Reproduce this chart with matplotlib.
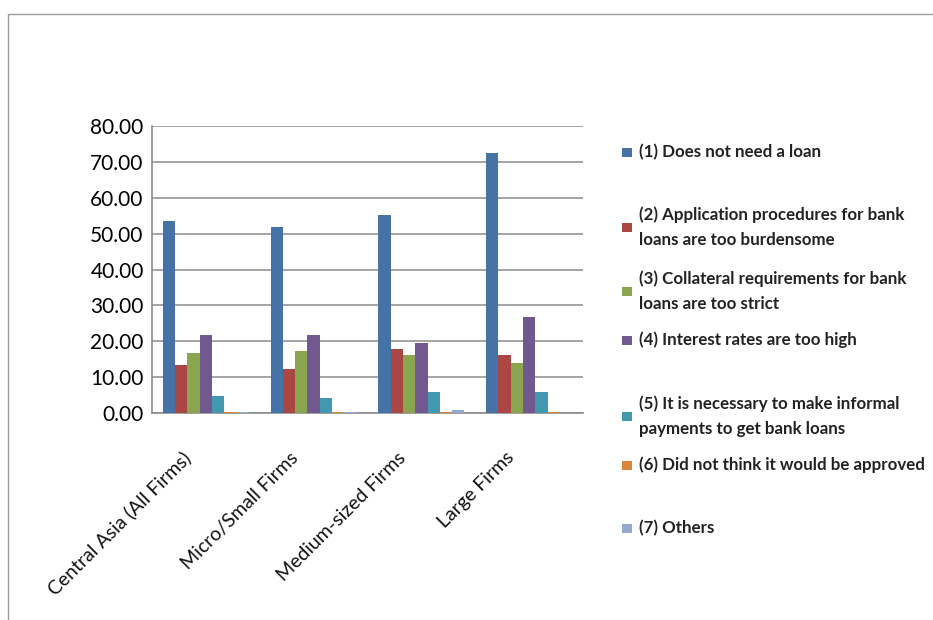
import matplotlib
matplotlib.use("Agg")
import matplotlib.pyplot as plt
import numpy as np
from matplotlib.patches import Rectangle

categories = ["Central Asia (All Firms)", "Micro/Small Firms", "Medium-sized Firms", "Large Firms"]
series_labels = [
    "(1) Does not need a loan",
    "(2) Application procedures for bank\nloans are too burdensome",
    "(3) Collateral requirements for bank\nloans are too strict",
    "(4) Interest rates are too high",
    "(5) It is necessary to make informal\npayments to get bank loans",
    "(6) Did not think it would be approved",
    "(7) Others",
]
s1 = [53.5, 51.8, 55.2, 72.5]
s2 = [13.4, 12.3, 17.9, 16.2]
s3 = [16.8, 17.3, 16.2, 14.0]
s4 = [21.8, 21.8, 19.6, 26.8]
s5 = [4.8, 4.3, 5.9, 5.9]
s6 = [0.3, 0.3, 0.3, 0.3]
s7 = [0.3, 0.3, 0.9, 0.0]
series = [s1, s2, s3, s4, s5, s6, s7]
colors = ["#4572A7", "#AA4643", "#89A54E", "#71588F", "#4198AF", "#DB843D", "#93A9CF"]
yticks = [0, 10, 20, 30, 40, 50, 60, 70, 80]

plt.rcParams['font.family'] = ['Lato', 'DejaVu Sans']

fig = plt.figure(figsize=(9.33, 6.2), dpi=100)
W, H = 933, 620
ax = fig.add_axes([152 / W, 1 - 413 / H, (583 - 152) / W, (413 - 126) / H])

x = np.arange(len(categories))
bw = 0.114
n = len(series)
for i, (vals, c) in enumerate(zip(series, colors)):
    offs = (i - (n - 1) / 2) * bw
    ax.bar(x + offs, vals, width=bw, color=c, zorder=3, linewidth=0)

ax.set_xlim(-0.5, len(categories) - 0.5)
ax.set_ylim(0, 80)
ax.set_yticks(yticks)
ax.set_yticklabels([f"{v:.2f}" for v in yticks], fontsize=15)
ax.yaxis.grid(True, color="#8c8c8c", linewidth=1.1, zorder=0)
ax.set_axisbelow(True)
ax.set_xticks(x)
ax.set_xticklabels([])
for xi, cat in zip(x, categories):
    ax.annotate(cat, xy=(xi, 0), xycoords="data", xytext=(-18, -42),
                textcoords="offset pixels", rotation=45, ha="right", va="center",
                rotation_mode="anchor", fontsize=14, color="#111111")
ax.tick_params(axis="x", length=0)
ax.tick_params(axis="y", length=0, pad=6)
for side in ["top", "right"]:
    ax.spines[side].set_visible(False)
for side in ["left", "bottom"]:
    ax.spines[side].set_color("#8c8c8c")
    ax.spines[side].set_linewidth(1.2)

# outer chart frame (partially visible)
fig.patches.append(Rectangle((8 / W, -0.1), 2, 1 - 14 / H + 0.1, transform=fig.transFigure,
                             fill=False, edgecolor="#9a9a9a", linewidth=1.0))

# legend drawn manually
leg_y = [152, 227, 291, 340, 416, 465, 528]
for lab, c, yy in zip(series_labels, colors, leg_y):
    fig.patches.append(Rectangle((622 / W, 1 - (yy + 5) / H), 10 / W, 9 / H,
                                 transform=fig.transFigure, facecolor=c, edgecolor="none"))
    fig.text(639 / W, 1 - yy / H, lab, fontsize=12.2, fontweight="bold", va="center",
             ha="left", color="#222222", linespacing=1.65)

fig.savefig("out.png", dpi=100)
